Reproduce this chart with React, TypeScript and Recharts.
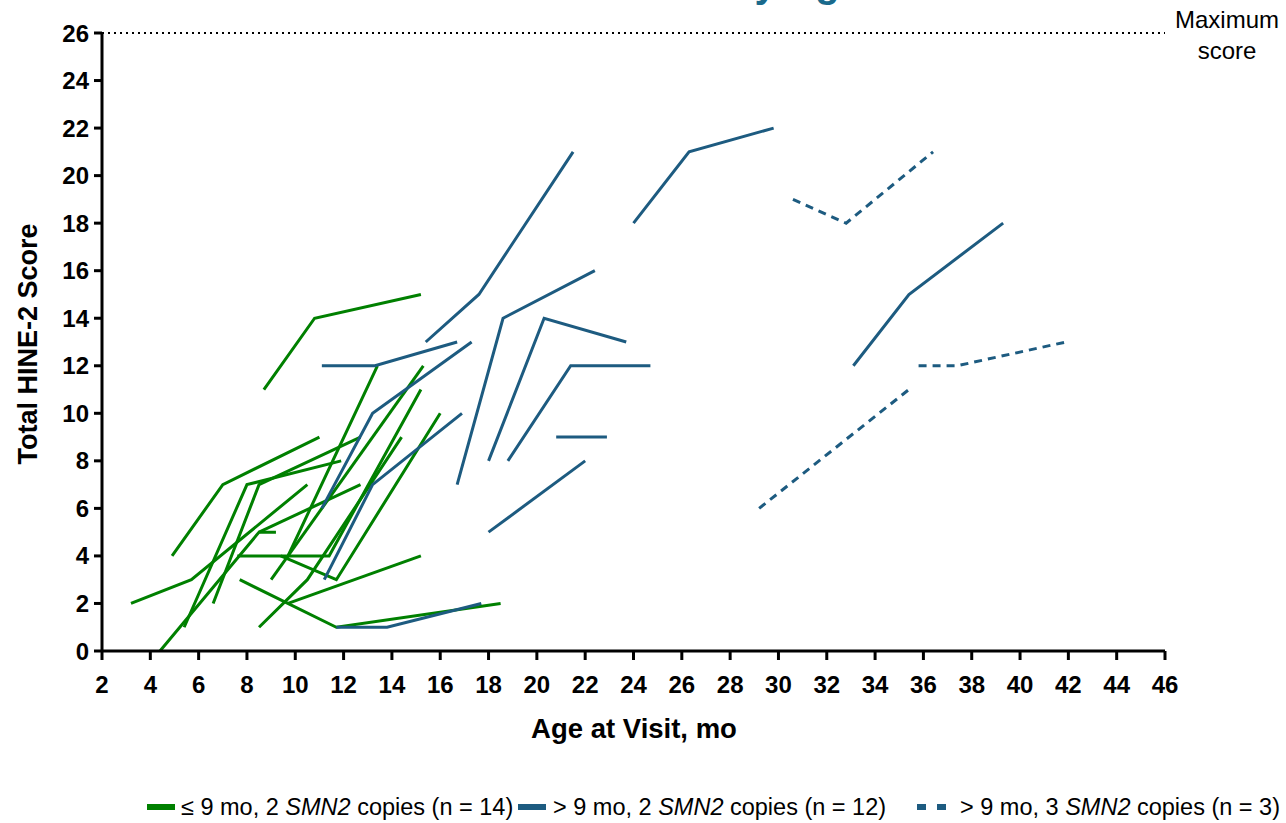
import { LineChart, Line, XAxis, YAxis, ReferenceLine } from "recharts";

// age (months) / HINE-2 score per visit, one track per patient
type Pt = { age: number; score: number };
const pts = (a: number[][]): Pt[] => a.map(([age, score]) => ({ age, score }));

const earlyTwoCopies: number[][][] = [
  [[4.9, 4], [7, 7], [11, 9]],
  [[8.7, 11], [10.8, 14], [15.2, 15]],
  [[3.2, 2], [5.7, 3], [10.5, 7]],
  [[5.4, 1], [8, 7], [11.9, 8]],
  [[6.6, 2], [8.5, 7], [12.7, 9]],
  [[4.4, 0], [8.5, 5], [9.2, 5]],
  [[8.5, 5], [12.7, 7]],
  [[7.6, 4], [9.7, 4], [13.4, 12]],
  [[9.7, 4], [11.4, 4], [15.2, 11]],
  [[8.5, 1], [10.5, 3], [14.4, 9]],
  [[7.7, 3], [11.7, 1], [18.5, 2]],
  [[9.7, 2], [15.2, 4]],
  [[9, 3], [15.3, 12]],
  [[9.4, 4], [11.7, 3], [16, 10]],
];

const lateTwoCopies: number[][][] = [
  [[15.4, 13], [17.6, 15], [21.5, 21]],
  [[24, 18], [26.3, 21], [29.8, 22]],
  [[16.7, 7], [18.6, 14], [22.4, 16]],
  [[18, 8], [20.3, 14], [23.7, 13]],
  [[18.8, 8], [21.4, 12], [24.7, 12]],
  [[20.8, 9], [22.9, 9]],
  [[18, 5], [22, 8]],
  [[33.1, 12], [35.4, 15], [39.3, 18]],
  [[11.1, 12], [13.3, 12], [16.7, 13]],
  [[11.1, 6], [13.2, 10], [17.3, 13]],
  [[11.2, 3], [13.2, 7], [16.9, 10]],
  [[11.7, 1], [13.8, 1], [17.7, 2]],
];

const lateThreeCopies: number[][][] = [
  [[30.6, 19], [32.8, 18], [36.4, 21]],
  [[35.8, 12], [37.4, 12], [41.9, 13]],
  [[29.2, 6], [35.4, 11]],
];

const xTicks = [2, 4, 6, 8, 10, 12, 14, 16, 18, 20, 22, 24, 26, 28, 30, 32, 34, 36, 38, 40, 42, 44, 46];
const yTicks = [0, 2, 4, 6, 8, 10, 12, 14, 16, 18, 20, 22, 24, 26];

const GREEN = "#008000";
const BLUE = "#1d5b80";
const FONT = "'Liberation Sans', Arial, sans-serif";

const tickStyle = { fontFamily: FONT, fontSize: 24, fontWeight: 700, fill: "#000" };
const legendText = { position: "absolute" as const, top: 0, fontSize: 23.5, lineHeight: "26px", whiteSpace: "nowrap" as const };
const swatch = (left: number, width: number) => ({ position: "absolute" as const, left, top: 10, width, height: 6, background: BLUE });

export default function App() {
  return (
    <div style={{ position: "absolute", left: 0, top: 0, width: 1286, height: 823, background: "#fff", overflow: "hidden", fontFamily: FONT }}>
      <div style={{ position: "absolute", left: 730, top: -39, fontSize: 40, fontWeight: 700, color: "#1a6a8c", whiteSpace: "nowrap" }}>
        by Age
      </div>
      <LineChart width={1286} height={823} margin={{ top: 33, right: 121, bottom: 132, left: 0 }}>
        <XAxis type="number" dataKey="age" domain={[2, 46]} ticks={xTicks} interval={0}
          stroke="#000" strokeWidth={3} tickSize={9} tickMargin={16} height={40}
          tick={tickStyle} tickLine={{ stroke: "#000", strokeWidth: 3 }} allowDataOverflow />
        <YAxis type="number" dataKey="score" domain={[0, 26]} ticks={yTicks} interval={0}
          stroke="#000" strokeWidth={3} tickSize={8} tickMargin={5} width={102}
          tick={tickStyle} tickLine={{ stroke: "#000", strokeWidth: 3 }} />
        <ReferenceLine y={26} stroke="#000" strokeWidth={2} strokeDasharray="2 4" />
        {earlyTwoCopies.map((t, i) => (
          <Line key={"g" + i} data={pts(t)} dataKey="score" stroke={GREEN} strokeWidth={3}
            dot={false} isAnimationActive={false} type="linear" />
        ))}
        {lateTwoCopies.map((t, i) => (
          <Line key={"b" + i} data={pts(t)} dataKey="score" stroke={BLUE} strokeWidth={3}
            dot={false} isAnimationActive={false} type="linear" />
        ))}
        {lateThreeCopies.map((t, i) => (
          <Line key={"d" + i} data={pts(t)} dataKey="score" stroke={BLUE} strokeWidth={3}
            strokeDasharray="8 6" dot={false} isAnimationActive={false} type="linear" />
        ))}
      </LineChart>

      <div style={{ position: "absolute", left: 6, top: 344, transform: "translate(-50%, -50%) rotate(-90deg)", transformOrigin: "center", marginLeft: 22, fontSize: 27, fontWeight: 700, whiteSpace: "nowrap" }}>
        Total HINE-2 Score
      </div>
      <div style={{ position: "absolute", left: 634, top: 729, transform: "translate(-50%, -50%)", fontSize: 27.5, fontWeight: 700, whiteSpace: "nowrap" }}>
        Age at Visit, mo
      </div>
      <div style={{ position: "absolute", left: 1168, top: 4, width: 118, textAlign: "center", fontSize: 24, lineHeight: "31px" }}>
        Maximum<br />score
      </div>

      <div style={{ position: "absolute", left: 0, top: 794, width: 1286, height: 28 }}>
        <span style={{ ...swatch(147, 28), background: GREEN }} />
        <span style={{ ...legendText, left: 181 }}>≤ 9 mo, 2 <i>SMN2</i> copies (n = 14)</span>
        <span style={swatch(518, 28)} />
        <span style={{ ...legendText, left: 553 }}>&gt; 9 mo, 2 <i>SMN2</i> copies (n = 12)</span>
        <span style={swatch(917, 9)} />
        <span style={swatch(937, 9)} />
        <span style={{ ...legendText, left: 960 }}>&gt; 9 mo, 3 <i>SMN2</i> copies (n = 3)</span>
      </div>
    </div>
  );
}
